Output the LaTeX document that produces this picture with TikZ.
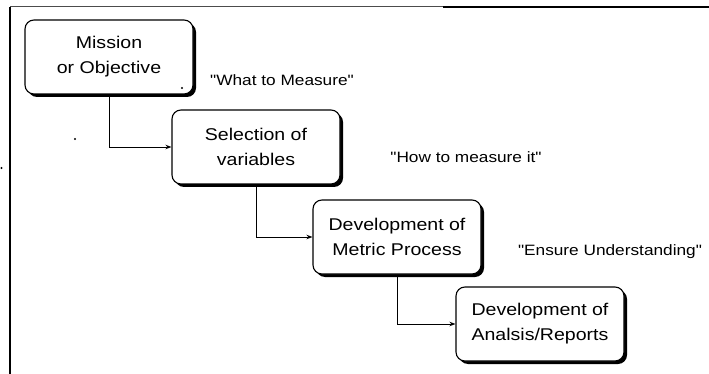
\documentclass[tikz,border=0pt]{standalone}
\usepackage{fontspec}
% a family without the TeX mapping keeps the straight double quotes
\newfontfamily\plainsans{Liberation Sans}[FakeStretch=1.15]
\usetikzlibrary{arrows.meta,shadows}
\begin{document}
\begin{tikzpicture}[x=1pt,y=-1pt,
  stepbox/.style={draw, line width=1.1pt, rounded corners=9pt, fill=white,
    minimum width=168pt, minimum height=74pt, align=center,
    font=\plainsans\fontsize{17}{25}\selectfont,
    drop shadow={shadow xshift=3pt, shadow yshift=-3pt, fill=black, opacity=1}},
  note/.style={font=\plainsans\fontsize{15}{18}\selectfont},
  link/.style={line width=0.9pt, -{Stealth[length=6pt,width=4.5pt]}},
  speck/.style={fill=black}]
\useasboundingbox (0,0) rectangle (709,374);

% open frame: left and top edges
\coordinate (tl) at (10,7);
\coordinate (bl) at (10,374);
\coordinate (tm) at (443,7);
\coordinate (tr) at (709,7);
\draw[line width=1.2pt] (bl) -- (tl);
\draw[line width=1pt, black!70] (tl) -- (tm);
\draw[line width=2pt] (tm) -- (tr);

% process steps
\node[stepbox] (mission) at (109,57)  {Mission\\or Objective};
\node[stepbox] (select)  at (256,147) {Selection of\\variables};
\node[stepbox] (metric)  at (397,237) {Development of\\Metric Process};
\node[stepbox] (report)  at (540,324) {Development of\\Analsis/Reports};

% step notes
\node[note] (what)   at (282,80)  {"What to Measure"};
\node[note] (how)    at (466,157) {"How to measure it"};
\node[note] (ensure) at (610,252) {"Ensure Understanding"};

% connectors
\draw[link] (mission.south) |- (select.west);
\draw[link] (select.south)  |- (metric.west);
\draw[link] (metric.south)  |- (report.west);

% specks
\fill[speck] (182,88) circle[radius=1.2pt];
\fill[speck] (75,139) circle[radius=1.2pt];
\fill[speck] (1.5,168) circle[radius=1.2pt];
\end{tikzpicture}
\end{document}
